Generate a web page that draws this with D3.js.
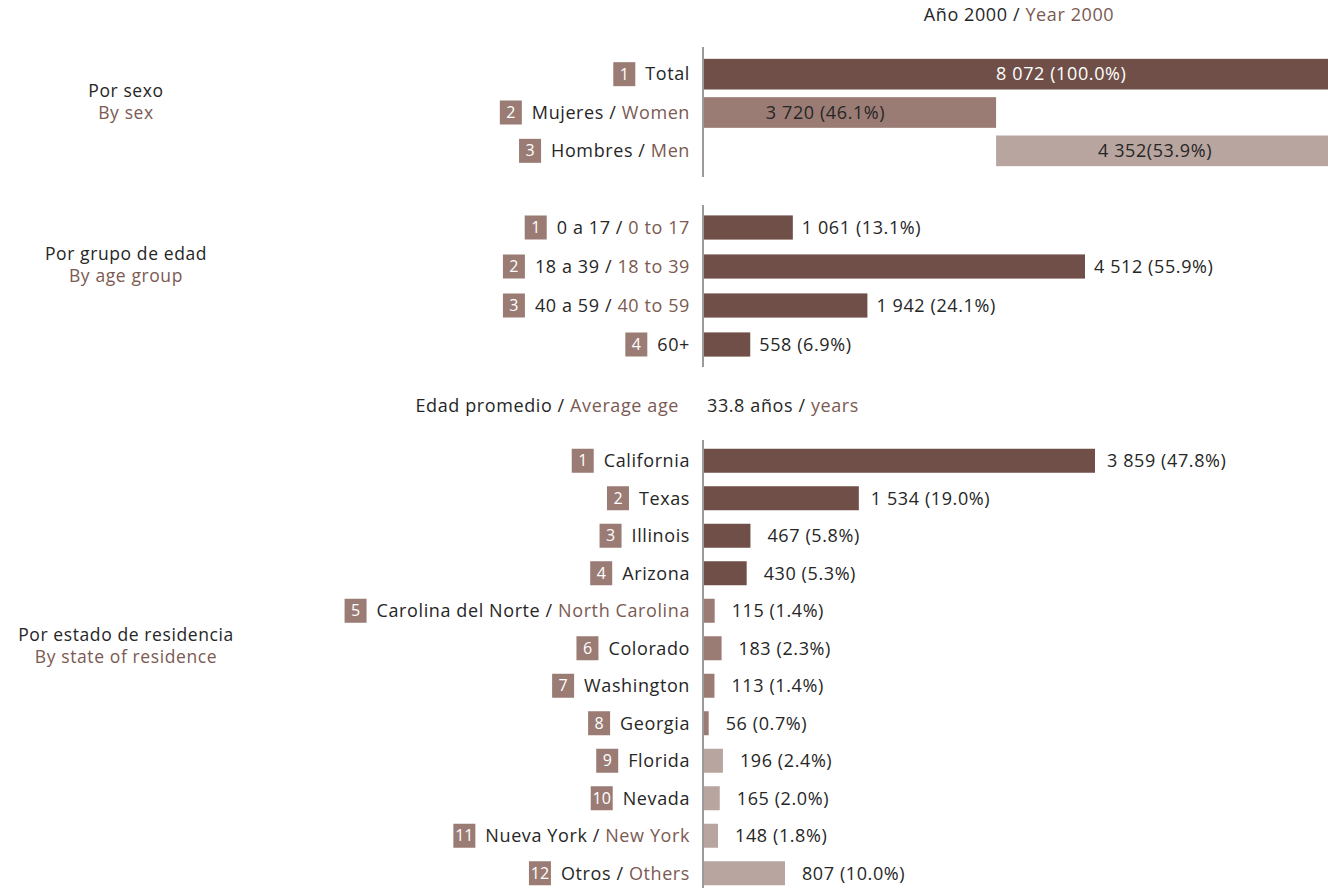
<!DOCTYPE html>
<html><head><meta charset="utf-8">
<script src="https://cdn.jsdelivr.net/npm/d3@7/dist/d3.min.js"></script>
<style>
body{margin:0;background:#fff;}
svg{font-family:"Open Sans","Noto Sans",sans-serif;}
.t{letter-spacing:0.6px;}
</style></head>
<body><svg id="c" width="1328" height="888"></svg>
<script>
// ---- data ----
const title = ["Año 2000", "Year 2000"];
const sexCats = [["Total", null], ["Mujeres", "Women"], ["Hombres", "Men"]];
const sexValues = [8072, 3720, 4352];
const sexPct = ["100.0%", "46.1%", "53.9%"];
const ageCats = [["0 a 17", "0 to 17"], ["18 a 39", "18 to 39"], ["40 a 59", "40 to 59"], ["60+", null]];
const ageValues = [1061, 4512, 1942, 558];
const agePct = ["13.1%", "55.9%", "24.1%", "6.9%"];
const avgAge = "33.8";
const stateCats = [["California", null], ["Texas", null], ["Illinois", null], ["Arizona", null],
  ["Carolina del Norte", "North Carolina"], ["Colorado", null], ["Washington", null], ["Georgia", null],
  ["Florida", null], ["Nevada", null], ["Nueva York", "New York"], ["Otros", "Others"]];
const stateValues = [3859, 1534, 467, 430, 115, 183, 113, 56, 196, 165, 148, 807];
const statePct = ["47.8%", "19.0%", "5.8%", "5.3%", "1.4%", "2.3%", "1.4%", "0.7%", "2.4%", "2.0%", "1.8%", "10.0%"];
const sectionTitles = [["Por sexo", "By sex"], ["Por grupo de edad", "By age group"], ["Por estado de residencia", "By state of residence"]];

// ---- style ----
const DARK = "#6f4f48", MED = "#9b7c75", LIGHT = "#b8a59f", EN = "#7b5a52", TXT = "#262626";
const stateColors = stateValues.map((d, i) => i < 4 ? DARK : (i < 8 ? MED : LIGHT));
const FS = 18;
const X0 = 703;

const svg = d3.select("#c");
const fmtN = v => { const s = String(v); return s.length > 3 ? s.slice(0, -3) + " " + s.slice(-3) : s; };

function bil(sel, es, en, sep) {
  sel.classed("t", true);
  sel.append("tspan").attr("fill", TXT).text(es);
  if (en) {
    sel.append("tspan").attr("fill", TXT).text(sep || " / ");
    sel.append("tspan").attr("fill", EN).text(en);
  }
}

// Title
const t = svg.append("text").attr("x", 1019).attr("y", 21).attr("text-anchor", "middle").attr("font-size", FS);
bil(t, title[0], title[1]);

// category labels with badges
function catLabels(cats, y) {
  cats.forEach((c, i) => {
    const g = svg.append("g");
    const tx = g.append("text").attr("x", 690).attr("y", y(i)).attr("dy", "0.35em")
      .attr("text-anchor", "end").attr("font-size", FS);
    bil(tx, c[0], c[1]);
    const w = tx.node().getComputedTextLength();
    const bx = 690 - w - 10 - 22;
    g.append("rect").attr("x", bx).attr("y", y(i) - 12).attr("width", 22).attr("height", 24).attr("fill", MED);
    g.append("text").attr("x", bx + 11).attr("y", y(i)).attr("dy", "0.35em").attr("text-anchor", "middle")
      .attr("font-size", 16).attr("fill", "#fff").text(i + 1);
  });
}
function axisLine(y1, y2) {
  svg.append("line").attr("x1", X0).attr("x2", X0).attr("y1", y1).attr("y2", y2)
    .attr("stroke", "#9a9a9a").attr("stroke-width", 2);
}
function sectionTitle(i, y) {
  svg.append("text").attr("class", "t").attr("x", 126).attr("y", y).attr("text-anchor", "middle").attr("font-size", 17.5)
    .attr("fill", TXT).text(sectionTitles[i][0]);
  svg.append("text").attr("class", "t").attr("x", 126).attr("y", y + 22).attr("text-anchor", "middle").attr("font-size", 17.5)
    .attr("fill", EN).text(sectionTitles[i][1]);
}
function valText(x, y, s, fill, anchor) {
  return svg.append("text").attr("class", "t").attr("x", x).attr("y", y).attr("dy", "0.35em")
    .attr("text-anchor", anchor || "start").attr("font-size", FS).attr("fill", fill || TXT).text(s);
}

// ---- Sex section ----
const ySex = d3.scaleBand().domain(d3.range(3)).range([55, 170]).paddingInner(0.2).paddingOuter(0.1);
const ySexC = i => ySex(i) + ySex.bandwidth() / 2;
const xSex = d3.scaleLinear().domain([0, 8072]).range([X0, X0 + 636]);
const sexStart = [0, 0, sexValues[1]];
const sexColors = [DARK, MED, LIGHT];
svg.append("g").selectAll("rect").data(sexValues).join("rect")
  .attr("x", (d, i) => xSex(sexStart[i])).attr("y", (d, i) => ySex(i))
  .attr("width", (d, i) => xSex(sexStart[i] + d) - xSex(sexStart[i])).attr("height", ySex.bandwidth())
  .attr("fill", (d, i) => sexColors[i]);
const sexLabelX = [xSex(sexValues[1]), (X0 + xSex(sexValues[1])) / 2 - 24, (xSex(sexValues[1]) + 1328) / 2 - 7];
const sexAnchor = ["start", "middle", "middle"];
sexValues.forEach((v, i) => {
  valText(sexLabelX[i], ySexC(i), fmtN(v) + (i === 2 ? "" : " ") + "(" + sexPct[i] + ")",
    i === 0 ? "#fff" : TXT, sexAnchor[i]);
});
catLabels(sexCats, ySexC);
axisLine(47, 177);
sectionTitle(0, 97);

// ---- Age section ----
const yAge = d3.scaleBand().domain(d3.range(4)).range([208, 364]).paddingInner(0.38).paddingOuter(0.19);
const yAgeC = i => yAge(i) + yAge.bandwidth() / 2;
const xAge = d3.scaleLinear().domain([0, 4512]).range([X0, 1085]);
svg.append("g").selectAll("rect").data(ageValues).join("rect")
  .attr("x", X0).attr("y", (d, i) => yAge(i)).attr("width", d => xAge(d) - X0)
  .attr("height", yAge.bandwidth()).attr("fill", DARK);
ageValues.forEach((v, i) => valText(xAge(v) + 9, yAgeC(i), fmtN(v) + " (" + agePct[i] + ")"));
catLabels(ageCats, yAgeC);
axisLine(205, 367);
sectionTitle(1, 260);

// ---- Average age ----
const a1 = svg.append("text").attr("x", 679).attr("y", 406).attr("dy", "0.35em").attr("text-anchor", "end").attr("font-size", FS);
bil(a1, "Edad promedio", "Average age");
const a2 = svg.append("text").attr("x", 707).attr("y", 406).attr("dy", "0.35em").attr("font-size", FS);
bil(a2, avgAge + " años", "years");

// ---- States section ----
const yState = d3.scaleBand().domain(d3.range(12)).range([442, 892]).paddingInner(0.36).paddingOuter(0.18);
const yStateC = i => yState(i) + yState.bandwidth() / 2;
const xState = d3.scaleLinear().domain([0, 3859]).range([X0, 1095]);
svg.append("g").selectAll("rect").data(stateValues).join("rect")
  .attr("x", X0).attr("y", (d, i) => yState(i)).attr("width", d => xState(d) - X0)
  .attr("height", yState.bandwidth()).attr("fill", (d, i) => stateColors[i]);
stateValues.forEach((v, i) => valText(xState(v) + (v > 1000 ? 12 : 17), yStateC(i), fmtN(v) + " (" + statePct[i] + ")"));
catLabels(stateCats, yStateC);
axisLine(440, 888);
sectionTitle(2, 641);
</script></body></html>
